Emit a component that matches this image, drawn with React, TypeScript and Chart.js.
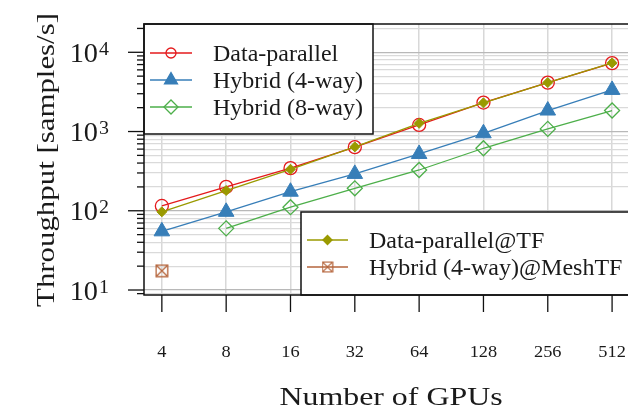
import React, { useEffect, useRef } from 'react';
import { Chart, registerables } from 'chart.js';

Chart.register(...registerables);

// GPU counts on the x axis
const gpuCounts = [4, 8, 16, 32, 64, 128, 256, 512];

// Throughput in samples/s for each configuration (null = not measured)
const dataParallel = [115, 200, 345, 635, 1210, 2320, 4140, 7300];
const hybrid4 = [55, 97, 174, 292, 521, 950, 1840, 3350];
const hybrid8 = [null, 60, 111, 192, 327, 615, 1080, 1840];
const dataParallelTF = [97, 180, 334, 640, 1270, 2300, 4150, 7350];
const hybrid4MeshTF = [17.5, null, null, null, null, null, null, null];

// Labelled decades on the y axis
const yMajorTicks = [10, 100, 1000, 10000];

const SERIF = '"Liberation Serif", "DejaVu Serif", serif';

const RED = '#e41a1c';
const BLUE = '#377eb8';
const GREEN = '#4daf4a';
const OLIVE = '#9a9a00';
const BROWN = '#b5653c';
const INK = '#1a1a1a';

const toPoints = (values: (number | null)[]) =>
  gpuCounts
    .map((g, i) => ({ x: g, y: values[i] }))
    .filter((p) => p.y !== null) as { x: number; y: number }[];

// Square with an X through it, used as a point image
function makeCrossedBox(size: number, color: string): HTMLCanvasElement {
  const c = document.createElement('canvas');
  c.width = size;
  c.height = size;
  const g = c.getContext('2d')!;
  const p = 1.2;
  g.strokeStyle = color;
  g.lineWidth = 1.3;
  g.strokeRect(p, p, size - 2 * p, size - 2 * p);
  g.beginPath();
  g.moveTo(p, p);
  g.lineTo(size - p, size - p);
  g.moveTo(size - p, p);
  g.lineTo(p, size - p);
  g.stroke();
  return c;
}

function yTickValues(min: number, max: number): number[] {
  const out: number[] = [];
  for (let e = 0; e <= 5; e++) {
    for (let m = 1; m <= 9; m++) {
      const v = m * Math.pow(10, e);
      if (v >= min && v <= max) out.push(v);
    }
  }
  return out;
}

// Text drawn with an optional horizontal stretch for a wider serif look
function drawText(
  ctx: CanvasRenderingContext2D,
  text: string,
  x: number,
  y: number,
  size: number,
  align: CanvasTextAlign,
  stretch = 1
) {
  ctx.save();
  ctx.translate(x, y);
  ctx.scale(stretch, 1);
  ctx.font = `${size}px ${SERIF}`;
  ctx.fillStyle = INK;
  ctx.textAlign = align;
  ctx.textBaseline = 'alphabetic';
  ctx.fillText(text, 0, 0);
  ctx.restore();
}

type Marker = {
  style: string;
  r: number;
  color: string;
  fill: boolean;
  image?: HTMLCanvasElement;
};

function drawMarker(ctx: CanvasRenderingContext2D, m: Marker, x: number, y: number) {
  ctx.save();
  ctx.strokeStyle = m.color;
  ctx.fillStyle = m.color;
  ctx.lineWidth = 1.3;
  ctx.beginPath();
  if (m.style === 'image' && m.image) {
    const s = m.r * 2;
    ctx.drawImage(m.image, x - s / 2, y - s / 2, s, s);
    ctx.restore();
    return;
  }
  if (m.style === 'circle') {
    ctx.arc(x, y, m.r, 0, Math.PI * 2);
  } else if (m.style === 'triangle') {
    for (let k = 0; k < 3; k++) {
      const ang = (k * 2 * Math.PI) / 3;
      const px = x + Math.sin(ang) * m.r;
      const py = y - Math.cos(ang) * m.r;
      if (k === 0) ctx.moveTo(px, py);
      else ctx.lineTo(px, py);
    }
    ctx.closePath();
  } else if (m.style === 'diamond') {
    ctx.moveTo(x - m.r, y);
    ctx.lineTo(x, y - m.r);
    ctx.lineTo(x + m.r, y);
    ctx.lineTo(x, y + m.r);
    ctx.closePath();
  }
  if (m.fill) ctx.fill();
  ctx.stroke();
  ctx.restore();
}

export default function App() {
  const canvasRef = useRef<HTMLCanvasElement | null>(null);

  useEffect(() => {
    const canvas = canvasRef.current;
    if (!canvas) return;

    const crossedBox = makeCrossedBox(14, BROWN);

    const legendMarkers: Marker[] = [
      { style: 'circle', r: 5, color: RED, fill: false },
      { style: 'triangle', r: 7.5, color: BLUE, fill: true },
      { style: 'diamond', r: 7, color: GREEN, fill: false },
      { style: 'diamond', r: 4.5, color: OLIVE, fill: true },
      { style: 'image', r: 6, color: BROWN, fill: false, image: crossedBox },
    ];

    const yMin = 8.65;
    const yMax = 22750;

    const decor = {
      id: 'decor',
      afterDraw(chart: any) {
        const ctx: CanvasRenderingContext2D = chart.ctx;
        const a = chart.chartArea;
        const xs = chart.scales.x;
        const ys = chart.scales.y;
        const ds = chart.data.datasets;
        ctx.save();

        // Legend boxes
        const drawLegend = (
          idx: number[],
          box: { l: number; t: number; r: number; b: number },
          rowYs: number[],
          sx0: number,
          sx1: number,
          tx: number
        ) => {
          ctx.fillStyle = '#ffffff';
          ctx.fillRect(box.l, box.t, box.r - box.l, box.b - box.t);
          ctx.strokeStyle = '#111111';
          ctx.lineWidth = 1.5;
          ctx.strokeRect(box.l, box.t, box.r - box.l, box.b - box.t);
          idx.forEach((di, k) => {
            const yy = rowYs[k];
            ctx.strokeStyle = ds[di].borderColor;
            ctx.lineWidth = 1.3;
            ctx.beginPath();
            ctx.moveTo(sx0, yy);
            ctx.lineTo(sx1, yy);
            ctx.stroke();
            drawMarker(ctx, legendMarkers[di], (sx0 + sx1) / 2, yy);
            drawText(ctx, ds[di].label, tx, yy + 8, 24, 'left', 1.0);
          });
        };

        drawLegend(
          [0, 1, 2],
          { l: a.left, t: a.top, r: a.left + 229, b: a.top + 110 },
          [a.top + 29, a.top + 56, a.top + 83],
          a.left + 6,
          a.left + 48,
          a.left + 69
        );
        drawLegend(
          [3, 4],
          { l: a.left + 157, t: a.bottom - 83, r: a.right + 6, b: a.bottom },
          [a.bottom - 55, a.bottom - 28],
          a.left + 163,
          a.left + 204,
          a.left + 225
        );

        // Plot frame
        ctx.strokeStyle = '#111111';
        ctx.lineWidth = 1.5;
        ctx.strokeRect(a.left, a.top, a.right - a.left, a.bottom - a.top);

        // y ticks and labels
        ctx.lineWidth = 1.3;
        (ys.ticks as { value: number }[]).forEach((t) => {
          const py = ys.getPixelForValue(t.value);
          const major = yMajorTicks.includes(t.value);
          ctx.strokeStyle = '#111111';
          ctx.beginPath();
          ctx.moveTo(a.left, py);
          ctx.lineTo(a.left - (major ? 16 : 7), py);
          ctx.stroke();
          if (major) {
            const exp = String(Math.round(Math.log10(t.value)));
            ctx.font = `27px ${SERIF}`;
            const wBase = ctx.measureText('10').width * 1.05;
            ctx.font = `19px ${SERIF}`;
            const wExp = ctx.measureText(exp).width * 1.05;
            const left = a.left - 36 - (wBase + wExp);
            drawText(ctx, '10', left, py + 9.5, 27, 'left', 1.05);
            drawText(ctx, exp, left + wBase + 1, py + 2.5, 19, 'left', 1.05);
          }
        });

        // x ticks and labels
        (xs.ticks as { value: number }[]).forEach((t) => {
          const px = xs.getPixelForValue(t.value);
          ctx.strokeStyle = '#111111';
          ctx.beginPath();
          ctx.moveTo(px, a.bottom);
          ctx.lineTo(px, a.bottom + 17);
          ctx.stroke();
          drawText(ctx, String(t.value), px, a.bottom + 62, 17, 'center', 1.08);
        });

        // Axis titles
        drawText(ctx, 'Number of GPUs', 391, a.bottom + 110, 25.5, 'center', 1.25);

        ctx.save();
        ctx.translate(54, 160);
        ctx.rotate(-Math.PI / 2);
        drawText(ctx, 'Throughput [samples/s]', 0, 0, 25.5, 'center', 1.21);
        ctx.restore();

        ctx.restore();
      },
    };

    const chart = new Chart(canvas, {
      type: 'line',
      data: {
        datasets: [
          {
            label: 'Data-parallel',
            data: toPoints(dataParallel),
            borderColor: RED,
            backgroundColor: 'rgba(0,0,0,0)',
            pointBackgroundColor: 'rgba(0,0,0,0)',
            pointBorderColor: RED,
            pointStyle: 'circle',
            pointRadius: 6.5,
            pointBorderWidth: 1.3,
            borderWidth: 1.3,
            order: 1,
          },
          {
            label: 'Hybrid (4-way)',
            data: toPoints(hybrid4),
            borderColor: BLUE,
            backgroundColor: BLUE,
            pointBackgroundColor: BLUE,
            pointBorderColor: BLUE,
            pointStyle: 'triangle',
            pointRadius: 9,
            pointBorderWidth: 1,
            borderWidth: 1.3,
            order: 2,
          },
          {
            label: 'Hybrid (8-way)',
            data: toPoints(hybrid8),
            borderColor: GREEN,
            backgroundColor: 'rgba(0,0,0,0)',
            pointBackgroundColor: 'rgba(0,0,0,0)',
            pointBorderColor: GREEN,
            pointStyle: 'rectRot',
            pointRadius: 7.5,
            pointBorderWidth: 1.3,
            borderWidth: 1.3,
            order: 3,
          },
          {
            label: 'Data-parallel@TF',
            data: toPoints(dataParallelTF),
            borderColor: OLIVE,
            backgroundColor: OLIVE,
            pointBackgroundColor: OLIVE,
            pointBorderColor: OLIVE,
            pointStyle: 'rectRot',
            pointRadius: 5,
            pointBorderWidth: 1,
            borderWidth: 1.3,
            order: 0,
          },
          {
            label: 'Hybrid (4-way)@MeshTF',
            data: toPoints(hybrid4MeshTF),
            borderColor: BROWN,
            backgroundColor: 'rgba(0,0,0,0)',
            pointStyle: crossedBox as any,
            pointRadius: 7,
            borderWidth: 1.3,
            order: 4,
          },
        ],
      },
      options: {
        animation: false,
        responsive: false,
        maintainAspectRatio: false,
        devicePixelRatio: 1,
        layout: { padding: { top: 24, right: 8, left: 0, bottom: 0 } },
        plugins: {
          legend: { display: false },
          tooltip: { enabled: false },
        },
        events: [],
        scales: {
          x: {
            type: 'logarithmic',
            min: 3.3,
            max: 621,
            bounds: 'data',
            afterBuildTicks: (s: any) => {
              s.ticks = gpuCounts.map((v) => ({ value: v }));
            },
            afterFit: (s: any) => {
              s.height = 113;
            },
            ticks: { display: false },
            grid: { color: '#d8d8d8', lineWidth: 1.5, drawTicks: false },
            border: { display: false },
          },
          y: {
            type: 'logarithmic',
            min: yMin,
            max: yMax,
            bounds: 'data',
            afterBuildTicks: (s: any) => {
              s.ticks = yTickValues(yMin, yMax).map((v) => ({ value: v }));
            },
            afterFit: (s: any) => {
              s.width = 144;
            },
            ticks: { display: false },
            grid: {
              color: (c: any) =>
                c.tick && yMajorTicks.includes(c.tick.value) ? '#b8b8b8' : '#dadada',
              lineWidth: 1.2,
              drawTicks: false,
            },
            border: { display: false },
          },
        },
      },
      plugins: [decor],
    });

    return () => chart.destroy();
  }, []);

  return (
    <div
      style={{
        position: 'fixed',
        left: 0,
        top: 0,
        width: 628,
        height: 408,
        overflow: 'hidden',
        background: '#ffffff',
      }}
    >
      <canvas
        ref={canvasRef}
        width={640}
        height={408}
        style={{ display: 'block', width: 640, height: 408 }}
      />
    </div>
  );
}
